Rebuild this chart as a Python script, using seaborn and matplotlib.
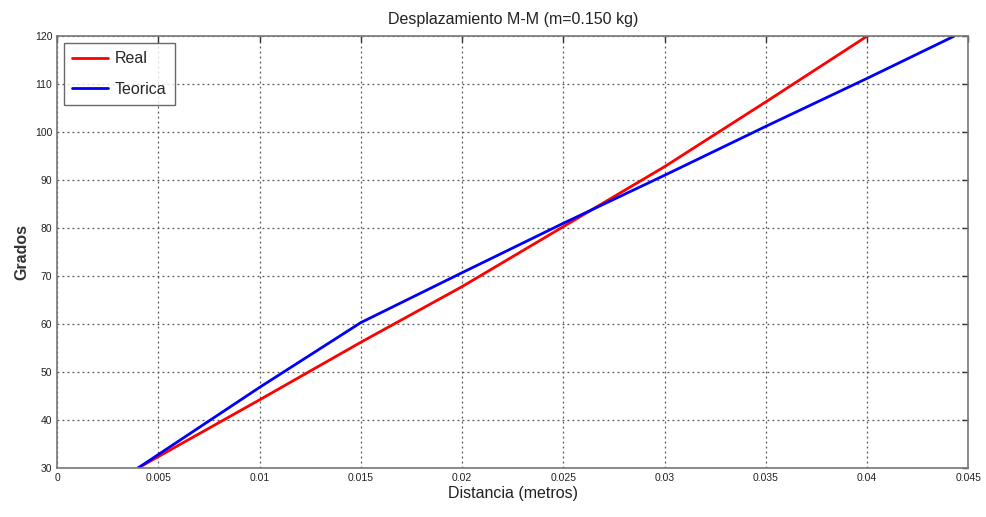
import matplotlib
matplotlib.use("Agg")
import matplotlib.pyplot as plt
import seaborn as sns
import pandas as pd
import numpy as np

# Data
real_x = [0.004, 0.010, 0.015, 0.020, 0.025, 0.030, 0.035, 0.040]
real_y = [30, 44.2, 56.2, 67.8, 80.3, 92.8, 106.3, 120]
teo_x = [0.004, 0.010, 0.015, 0.020, 0.025, 0.030, 0.035, 0.040, 0.0443]
teo_y = [30, 46.8, 60.3, 70.7, 81.0, 91.0, 101.2, 111.2, 120]
series_names = ["Real", "Teorica"]
x_ticks = [0, 0.005, 0.01, 0.015, 0.02, 0.025, 0.03, 0.035, 0.04, 0.045]
x_tick_labels = ["0", "0.005", "0.01", "0.015", "0.02", "0.025", "0.03", "0.035", "0.04", "0.045"]
y_ticks = [30, 40, 50, 60, 70, 80, 90, 100, 110, 120]

df = pd.concat([
    pd.DataFrame({"x": real_x, "y": real_y, "serie": series_names[0]}),
    pd.DataFrame({"x": teo_x, "y": teo_y, "serie": series_names[1]}),
], ignore_index=True)

sns.set_style("white")
plt.rcParams["font.family"] = ["Liberation Sans", "DejaVu Sans"]

fig = plt.figure(figsize=(9.87, 5.17), dpi=100)
ax = fig.add_axes([0.058, 0.095, 0.923, 0.835])

sns.lineplot(data=df, x="x", y="y", hue="serie", sort=False,
             palette={"Real": "#ff0000", "Teorica": "#0000ff"},
             linewidth=2, ax=ax, estimator=None)

ax.set_xlim(0, 0.045)
ax.set_ylim(30, 120)
ax.set_xticks(x_ticks)
ax.set_xticklabels(x_tick_labels)
ax.set_yticks(y_ticks)
ax.tick_params(axis="both", direction="in", length=4, labelsize=7.5,
               top=True, right=True, colors="#333333", labelcolor="#222222", width=1)
ax.grid(True, linestyle=(0, (1.5, 2.5)), color="#555555", linewidth=0.9)
for s in ax.spines.values():
    s.set_color("#777777")
    s.set_linewidth(1.2)

ax.set_title("Desplazamiento M-M (m=0.150 kg)", fontsize=11.5, color="#222222", pad=9)
ax.set_xlabel("Distancia (metros)", fontsize=11.5, color="#222222", labelpad=2)
ax.set_ylabel("Grados", fontsize=11.5, fontweight="bold", color="#333333", labelpad=4)

leg = ax.legend(loc="upper left", fontsize=11.5, frameon=True, fancybox=False,
                edgecolor="#444444", handlelength=2.2, handletextpad=0.45,
                borderpad=0.55, labelspacing=0.95, borderaxespad=0.4, title=None)
leg.get_frame().set_linewidth(1.0)

fig.savefig("out.png", dpi=100, facecolor="white")
